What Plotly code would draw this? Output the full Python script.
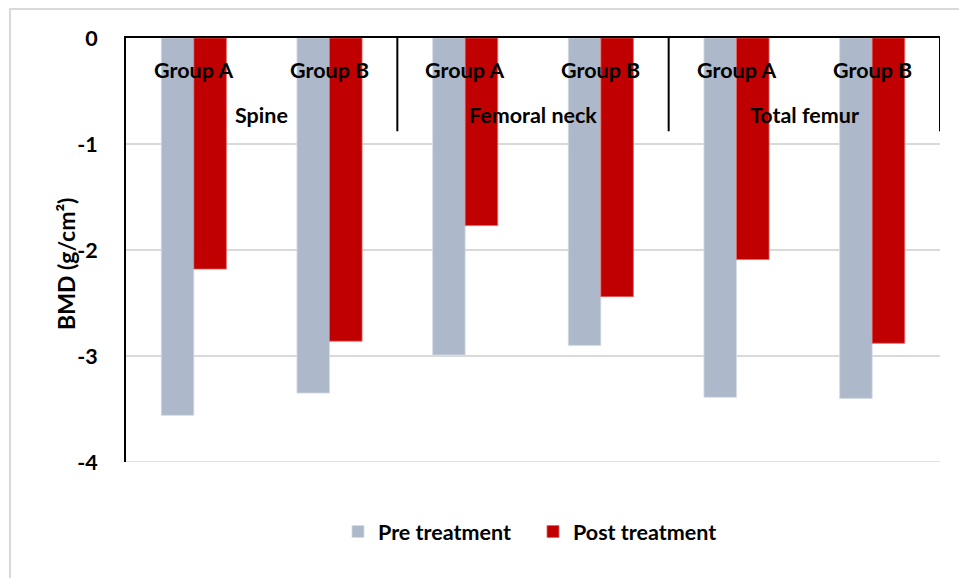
import plotly.graph_objects as go

# Bone mineral density by site and group
sites = ["Spine", "Femoral neck", "Total femur"]
groups = ["Group A", "Group B"]
pre_treatment = [-3.56, -3.35, -2.99, -2.90, -3.39, -3.40]
post_treatment = [-2.18, -2.86, -1.77, -2.44, -2.09, -2.88]
y_tick_values = [0, -1, -2, -3, -4]
y_tick_labels = ["0", "-1", "-2", "-3", "-4"]

PRE_COLOR = "#ADB9CA"
POST_COLOR = "#C00000"
FONT = "Lato"
BOLD = dict(family=FONT, size=21.5, color="#000000", weight="bold")

n_cats = len(sites) * len(groups)
xs = list(range(n_cats))

fig = go.Figure()
fig.add_trace(go.Bar(
    x=xs, y=pre_treatment, name="Pre treatment",
    marker=dict(color=PRE_COLOR, line=dict(color="#D6DCE5", width=0.8)),
))
fig.add_trace(go.Bar(
    x=xs, y=post_treatment, name="Post treatment",
    marker=dict(color=POST_COLOR, line=dict(color="#E06666", width=0.8)),
))

annotations = []
# inner level: group labels
for i in xs:
    annotations.append(dict(
        x=i, y=-0.30, xref="x", yref="y", text=groups[i % len(groups)],
        showarrow=False, font=BOLD,
    ))
# outer level: site labels
for j, site in enumerate(sites):
    annotations.append(dict(
        x=j * len(groups) + (len(groups) - 1) / 2, y=-0.73,
        xref="x", yref="y", text=site, showarrow=False, font=BOLD,
    ))
annotations.append(dict(
    x=-0.0934, y=0.467, xref="paper", yref="paper", text="BMD (g/cm²)",
    textangle=-90, showarrow=False, font={**BOLD, "size": 23},
))

shapes = []
# dividers between site categories
for j in range(1, len(sites) + 1):
    xb = j * len(groups) - 0.5
    shapes.append(dict(
        type="line", xref="x", yref="y", x0=xb, x1=xb, y0=0, y1=-0.88,
        line=dict(color="#000000", width=2),
    ))
# bottom gridline at the lower end of the value axis
shapes.append(dict(
    type="line", xref="paper", yref="y", x0=0, x1=1, y0=-4, y1=-4,
    line=dict(color="#D9D9D9", width=1.5), layer="below",
))
# chart frame
shapes.append(dict(
    type="rect", xref="paper", yref="paper",
    x0=-0.1425, x1=1.2, y0=-0.4, y1=1.0685,
    line=dict(color="#D9D9D9", width=2), layer="below",
))

fig.update_layout(
    width=959, height=578,
    margin=dict(l=126, r=19, t=38, b=116),
    paper_bgcolor="white", plot_bgcolor="white",
    barmode="group", bargap=0.52, bargroupgap=0,
    showlegend=True,
    legend=dict(
        orientation="h", x=0.5, xanchor="center", y=-0.164, yanchor="middle",
        font=BOLD, itemwidth=30, tracegroupgap=0,
        entrywidth=150, entrywidthmode="pixels",
    ),
    annotations=annotations,
    shapes=shapes,
    xaxis=dict(
        range=[-0.5, n_cats - 0.5], side="top",
        showline=True, linecolor="#000000", linewidth=2,
        showticklabels=False, ticks="", showgrid=False, zeroline=False,
    ),
    yaxis=dict(
        range=[-4, 0], tickvals=y_tick_values, ticktext=y_tick_labels,
        showline=True, linecolor="#000000", linewidth=2,
        showgrid=True, gridcolor="#D9D9D9", gridwidth=1.5,
        zeroline=False, ticks="", ticklabelstandoff=22,
        tickfont=BOLD,
    ),
    font=dict(family=FONT),
)

fig.write_html("out.html")
